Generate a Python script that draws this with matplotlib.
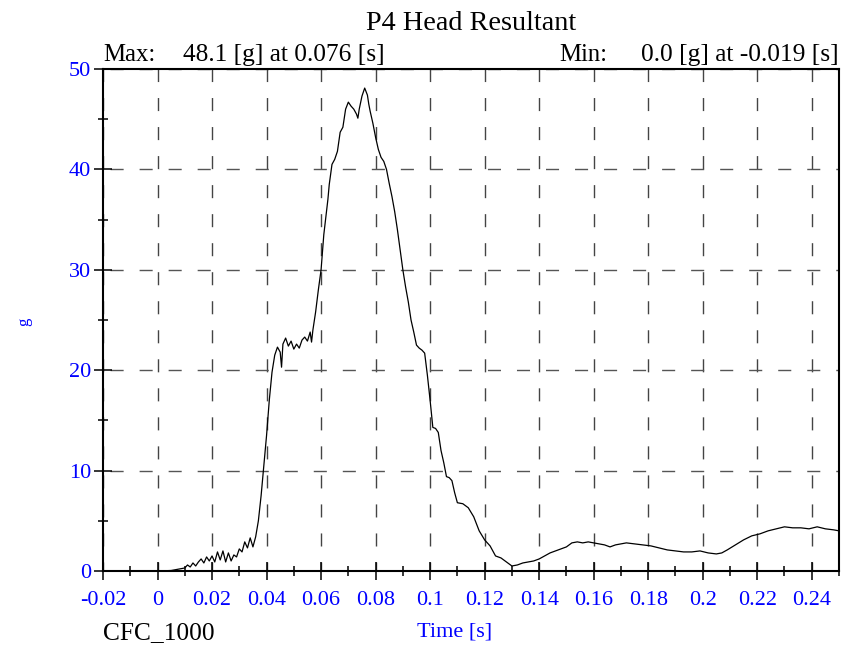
import matplotlib
matplotlib.use("Agg")
import matplotlib.pyplot as plt
from matplotlib.ticker import MultipleLocator

plt.rcParams['font.family'] = ['Liberation Serif', 'DejaVu Serif']

title = "P4 Head Resultant"
max_label = "Max:"
max_text = "48.1 [g] at 0.076 [s]"
min_label = "Min:"
min_text = "0.0 [g] at -0.019 [s]"
xlabel = "Time [s]"
ylabel = "g"
filter_label = "CFC_1000"

time_s = [
    -0.020, 0.000, 0.005, 0.008, 0.010, 0.011, 0.012, 0.013, 0.014, 0.015,
    0.016, 0.017, 0.018, 0.019, 0.020, 0.021, 0.022, 0.023, 0.024, 0.025,
    0.026, 0.027, 0.028, 0.029, 0.030, 0.031, 0.032, 0.033, 0.034, 0.035,
    0.036, 0.037, 0.038, 0.039, 0.040, 0.041, 0.042, 0.043, 0.044, 0.045,
    0.0455, 0.046, 0.047, 0.048, 0.049, 0.050, 0.051, 0.052, 0.053, 0.054,
    0.055, 0.056, 0.0565, 0.057, 0.058, 0.059, 0.060, 0.061, 0.0625, 0.063,
    0.064, 0.065, 0.066, 0.067, 0.068, 0.069, 0.070, 0.071, 0.072, 0.073,
    0.0735, 0.074, 0.075, 0.076, 0.077, 0.0775, 0.078, 0.079, 0.080, 0.081,
    0.082, 0.083, 0.084, 0.085, 0.086, 0.087, 0.088, 0.089, 0.090, 0.091,
    0.092, 0.093, 0.094, 0.095, 0.096, 0.097, 0.098, 0.099, 0.100, 0.101,
    0.102, 0.103, 0.104, 0.105, 0.106, 0.107, 0.108, 0.109, 0.110, 0.112,
    0.114, 0.116, 0.118, 0.120, 0.122, 0.124, 0.126, 0.128, 0.130, 0.132,
    0.134, 0.136, 0.138, 0.140, 0.142, 0.144, 0.146, 0.148, 0.150, 0.152,
    0.154, 0.156, 0.158, 0.160, 0.162, 0.164, 0.166, 0.168, 0.170, 0.172,
    0.175, 0.178, 0.181, 0.184, 0.187, 0.190, 0.193, 0.196, 0.199, 0.202,
    0.205, 0.207, 0.209, 0.212, 0.215, 0.218, 0.221, 0.224, 0.227, 0.230,
    0.233, 0.236, 0.239, 0.242, 0.245, 0.248, 0.250,
]
accel_g = [
    0.0, 0.0, 0.05, 0.2, 0.3, 0.6, 0.4, 0.8, 0.5, 0.9,
    1.2, 0.8, 1.4, 1.0, 1.5, 0.9, 1.9, 1.1, 2.0, 0.9,
    1.8, 1.0, 1.6, 1.4, 2.2, 1.9, 2.9, 2.3, 3.3, 2.4,
    3.4, 5.0, 7.5, 10.5, 13.5, 17.0, 19.8, 21.5, 22.3, 21.8,
    20.3, 22.6, 23.2, 22.4, 22.9, 22.1, 22.6, 22.2, 23.0, 23.3,
    22.9, 23.8, 22.8, 24.0, 25.8, 28.0, 30.0, 33.5, 37.0, 38.5,
    40.5, 41.0, 41.8, 43.7, 44.2, 46.0, 46.7, 46.3, 46.0, 45.5,
    45.1, 46.0, 47.3, 48.1, 47.4, 46.5, 45.8, 44.6, 43.2, 42.0,
    41.2, 40.8, 40.0, 38.6, 37.3, 35.8, 34.0, 32.0, 30.0, 28.3,
    26.8, 25.0, 23.8, 22.5, 22.2, 22.0, 21.7, 19.5, 17.0, 14.3,
    14.2, 13.8, 12.0, 10.8, 9.4, 9.3, 9.0, 7.8, 6.8, 6.7,
    6.3, 5.4, 4.0, 3.1, 2.5, 1.5, 1.3, 0.9, 0.5, 0.6,
    0.8, 0.9, 1.0, 1.2, 1.5, 1.8, 2.0, 2.2, 2.4, 2.8,
    2.9, 2.8, 2.9, 2.8, 2.7, 2.6, 2.4, 2.6, 2.7, 2.8,
    2.7, 2.6, 2.5, 2.3, 2.1, 2.0, 1.9, 1.9, 2.0, 1.8,
    1.7, 1.8, 2.1, 2.6, 3.1, 3.5, 3.7, 4.0, 4.2, 4.4,
    4.3, 4.3, 4.2, 4.4, 4.2, 4.1, 4.0,
]

x_ticks = [-0.02, 0, 0.02, 0.04, 0.06, 0.08, 0.1, 0.12, 0.14, 0.16, 0.18, 0.2, 0.22, 0.24]
x_tick_labels = ["-0.02", "0", "0.02", "0.04", "0.06", "0.08", "0.1", "0.12",
                 "0.14", "0.16", "0.18", "0.2", "0.22", "0.24"]
y_ticks = [0, 10, 20, 30, 40, 50]
y_tick_labels = ["0", "10", "20", "30", "40", "50"]

W, H = 855, 646
fig = plt.figure(figsize=(W / 100, H / 100), dpi=100)
L, R, T, B = 103, 839, 69, 571
ax = fig.add_axes([L / W, (H - B) / H, (R - L) / W, (B - T) / H])

ax.plot(time_s, accel_g, color='black', linewidth=0.9, zorder=3)
ax.set_xlim(-0.02, 0.25)
ax.set_ylim(0, 50)

ax.set_xticks(x_ticks)
ax.set_xticklabels(x_tick_labels)
ax.set_yticks(y_ticks)
ax.set_yticklabels(y_tick_labels)
ax.xaxis.set_minor_locator(MultipleLocator(0.01))
ax.yaxis.set_minor_locator(MultipleLocator(5))

ax.tick_params(axis='both', which='major', direction='inout', length=13, width=1.1,
               color='black', labelcolor='#0000ff', labelsize=16)
ax.tick_params(axis='both', which='minor', direction='inout', length=7, width=1.1,
               color='black')
ax.tick_params(axis='x', which='major', pad=8)
ax.tick_params(axis='y', which='major', pad=2)

for s in ax.spines.values():
    s.set_linewidth(1.5)
    s.set_color('black')

ax.grid(True, which='major', color='#444444', linewidth=1.0,
        linestyle=(2.9, (9.4, 11.5)))
ax.set_axisbelow(True)
for gl in ax.get_ygridlines():
    gl.set_linestyle((15.8, (9.4, 11.5)))
    gl.set_color('#555555')

def ftext(x, y, s, **kw):
    fig.text(x / W, 1 - y / H, s, **kw)

ftext(471, 30, title, ha='center', va='baseline', fontsize=20.3, color='black')
ftext(103, 61, max_label, ha='left', va='baseline', fontsize=17.8, color='black')
ftext(183, 61, max_text, ha='left', va='baseline', fontsize=18.3, color='black')
ftext(559, 61, min_label, ha='left', va='baseline', fontsize=17.8, color='black')
ftext(839, 61, min_text, ha='right', va='baseline', fontsize=18.3, color='black')
ftext(455, 637, xlabel, ha='center', va='baseline', fontsize=16, color='#0000ff')
ftext(103, 639, filter_label, ha='left', va='baseline', fontsize=18.3, color='black')
ftext(24, 322, ylabel, ha='center', va='center', fontsize=12, color='#0000ff', rotation=90)

fig.savefig("out.png", dpi=100)
